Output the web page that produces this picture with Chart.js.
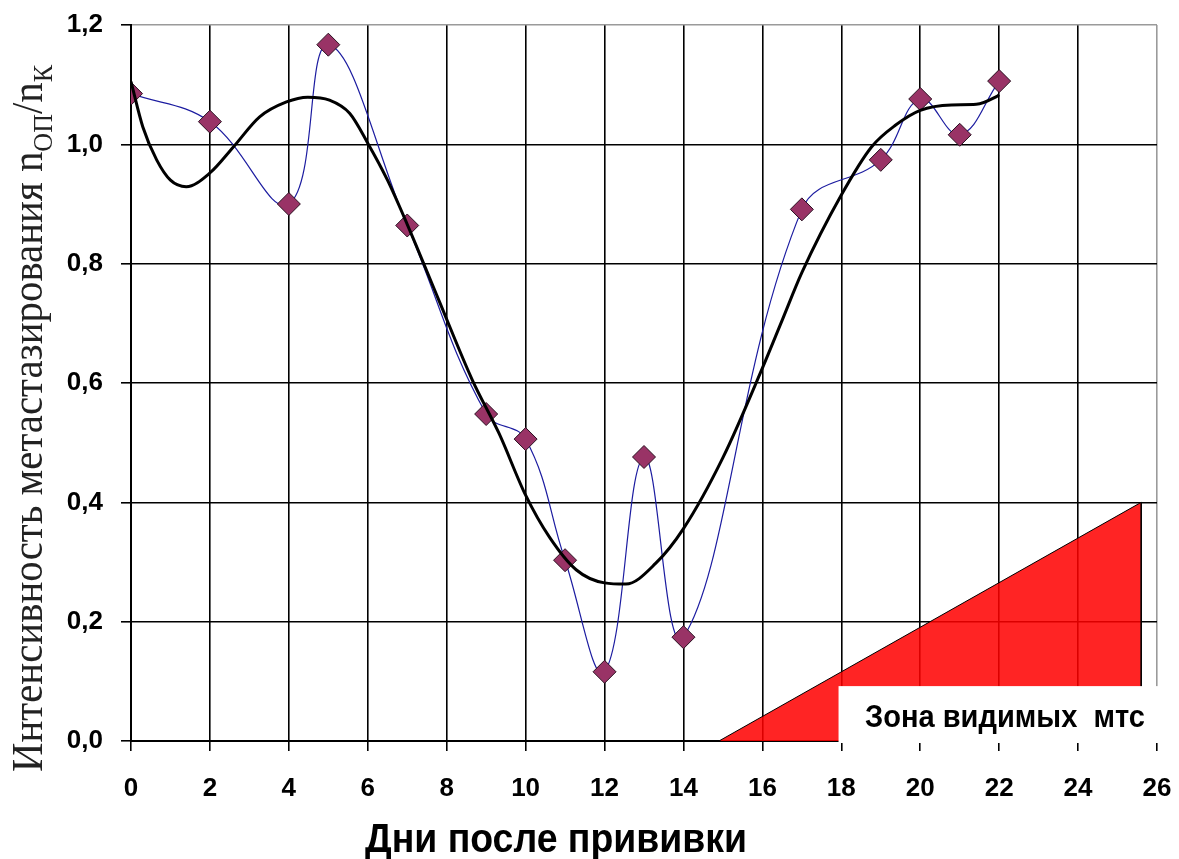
<!DOCTYPE html>
<html><head><meta charset="utf-8">
<script src="https://cdn.jsdelivr.net/npm/chart.js@4"></script>
<style>html,body{margin:0;padding:0;background:#fff;overflow:hidden}</style>
</head><body>
<canvas id="c" width="1179" height="859"></canvas>
<script>
// ---- data ----
const days = [0, 2, 4, 5, 7, 9, 10, 11, 12, 13, 14, 17, 19, 20, 21, 22];
const intensity = [1.085, 1.038, 0.900, 1.167, 0.864, 0.548, 0.506, 0.303, 0.116, 0.476, 0.174, 0.891, 0.974, 1.076, 1.016, 1.106];

const trendDays = [0, 0.3, 0.65, 1.0, 1.4, 2.0, 2.6, 3.26, 3.94, 4.48, 5.03, 5.54, 6.0, 6.5, 7.0, 7.8, 8.65, 9.33, 10.0, 10.6, 11.28, 12.0, 12.54, 13.3, 14.0, 15.0, 16.0, 16.5, 17.0, 18.0, 18.77, 19.37, 20.0, 20.79, 21.42, 21.93, 22.0];
const trendValues = [1.105, 1.029, 0.974, 0.940, 0.929, 0.952, 0.996, 1.046, 1.071, 1.079, 1.074, 1.052, 1.002, 0.940, 0.866, 0.739, 0.605, 0.515, 0.412, 0.342, 0.287, 0.265, 0.263, 0.298, 0.356, 0.475, 0.625, 0.705, 0.785, 0.915, 0.996, 1.032, 1.057, 1.066, 1.067, 1.080, 1.083];

const zoneDays = [14.9, 25.6, 25.6];
const zoneValues = [0, 0.4, 0];

const xTickValues = [0, 2, 4, 6, 8, 10, 12, 14, 16, 18, 20, 22, 24, 26];
const yTickValues = [0, 0.2, 0.4, 0.6, 0.8, 1.0, 1.2];
const yTickLabels = ['0,0', '0,2', '0,4', '0,6', '0,8', '1,0', '1,2'];

const xTitle = 'Дни после прививки';
const yTitleMain = 'Интенсивность метастазирования n';
const yTitleSub1 = 'ОП';
const yTitleMid = '/n';
const yTitleSub2 = 'К';
const zoneLabel = 'Зона видимых  мтс';

const SANS = '"Liberation Sans", Arial, sans-serif';
const SERIF = '"Liberation Serif", "Times New Roman", serif';

function pts(xs, ys) { return xs.map((x, i) => ({x: x, y: ys[i]})); }

function fitText(ctx, text, x, y, font, width, align) {
  ctx.save();
  ctx.font = font;
  const w = ctx.measureText(text).width;
  ctx.translate(x, y);
  ctx.scale(width / w, 1);
  ctx.textAlign = align;
  ctx.textBaseline = 'alphabetic';
  ctx.fillText(text, 0, 0);
  ctx.restore();
}

function zeroPad(s) { s.paddingTop = 0; s.paddingBottom = 0; s.paddingLeft = 0; s.paddingRight = 0; }

const overlay = {
  id: 'overlay',
  afterDatasetsDraw(chart) {
    const {ctx, scales: {x, y}} = chart;
    const L = x.getPixelForValue(17.93), T = y.getPixelForValue(0.092);
    const B = y.getPixelForValue(0) + 2, R = chart.chartArea.right + 5;
    ctx.save();
    ctx.fillStyle = '#fff';
    ctx.fillRect(L, T, R - L, B - T);
    ctx.fillStyle = '#000';
    fitText(ctx, zoneLabel, x.getPixelForValue(18.6), y.getPixelForValue(0.024), 'bold 32px ' + SANS, 280, 'left');
    ctx.restore();
  },
  afterDraw(chart) {
    const {ctx} = chart;
    ctx.save();
    ctx.fillStyle = '#000';
    // x title
    fitText(ctx, xTitle, 556, 852, 'bold 40px ' + SANS, 382, 'center');
    // y title (rotated, with subscripts)
    const mainF = '44px ' + SERIF, subF = '28px ' + SERIF;
    const segs = [
      {t: yTitleMain, f: mainF, dy: 0},
      {t: yTitleSub1, f: subF, dy: 10},
      {t: yTitleMid, f: mainF, dy: 0},
      {t: yTitleSub2, f: subF, dy: 10}
    ];
    let W = 0;
    segs.forEach(s => { ctx.font = s.f; s.w = ctx.measureText(s.t).width; W += s.w; });
    const sx = 707 / W;
    ctx.fillStyle = '#222';
    ctx.translate(42, 772);
    ctx.rotate(-Math.PI / 2);
    ctx.scale(sx, 1);
    ctx.textBaseline = 'alphabetic';
    ctx.textAlign = 'left';
    let px = 0;
    segs.forEach(s => { ctx.font = s.f; ctx.fillText(s.t, px, s.dy); px += s.w; });
    ctx.restore();
  }
};

new Chart(document.getElementById('c'), {
  type: 'line',
  data: {
    datasets: [
      {
        data: pts(trendDays, trendValues),
        borderColor: '#000',
        borderWidth: 3,
        pointRadius: 0,
        fill: false,
        cubicInterpolationMode: 'monotone'
      },
      {
        data: pts(days, intensity),
        borderColor: '#1c1ca0',
        borderWidth: 1.2,
        tension: 0.4,
        pointStyle: 'rectRot',
        pointRadius: 11.5,
        pointBackgroundColor: '#993366',
        pointBorderColor: '#2a1020',
        pointBorderWidth: 1,
        fill: false
      },
      {
        data: pts(zoneDays, zoneValues),
        borderColor: '#000',
        borderWidth: 1,
        backgroundColor: 'rgba(255,0,0,0.86)',
        fill: 'origin',
        pointRadius: 0,
        tension: 0
      }
    ]
  },
  options: {
    responsive: false,
    animation: false,
    devicePixelRatio: 1,
    layout: {padding: {top: 25, right: 22, left: 0, bottom: 0}},
    plugins: {legend: {display: false}, tooltip: {enabled: false}},
    scales: {
      x: {
        type: 'linear',
        min: 0, max: 26,
        afterBuildTicks: s => { s.ticks = xTickValues.map(v => ({value: v})); },
        afterFit: s => { s.height = 118; zeroPad(s); },
        ticks: {
          font: {family: SANS, size: 26, weight: 'bold'},
          color: '#000',
          padding: 22,
          maxRotation: 0,
          autoSkip: false,
          callback: v => String(v)
        },
        grid: {
          color: c => (c.tick && c.tick.value === 26) ? '#9a9a9a' : '#000',
          lineWidth: 1.6,
          tickLength: 10,
          tickColor: '#000',
          tickWidth: 1.6
        },
        border: {color: '#000', width: 2}
      },
      y: {
        type: 'linear',
        min: 0, max: 1.2,
        afterBuildTicks: s => { s.ticks = yTickValues.map(v => ({value: v})); },
        afterFit: s => { s.width = 131; zeroPad(s); },
        ticks: {
          font: {family: SANS, size: 26, weight: 'bold'},
          color: '#000',
          padding: 18,
          callback: (v, i) => yTickLabels[i]
        },
        grid: {
          color: c => (c.tick && Math.abs(c.tick.value - 1.2) < 1e-6) ? '#9a9a9a' : '#000',
          lineWidth: 1.6,
          tickLength: 10,
          tickColor: '#000',
          tickWidth: 1.6
        },
        border: {color: '#000', width: 2}
      }
    }
  },
  plugins: [overlay]
});
</script>
</body></html>
